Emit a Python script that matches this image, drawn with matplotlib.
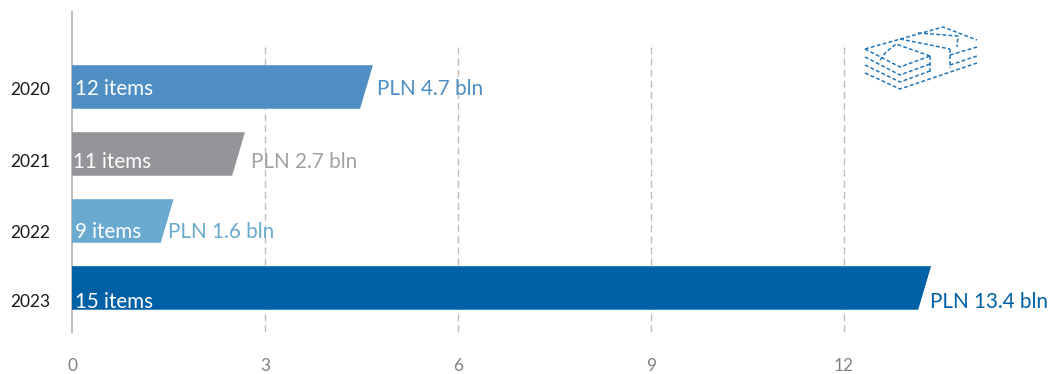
#!/usr/bin/env python
import matplotlib
matplotlib.use("Agg")
import matplotlib.pyplot as plt

plt.rcParams['font.family'] = ['Lato', 'DejaVu Sans']

years = ['2020', '2021', '2022', '2023']
values = [4.68, 2.69, 1.58, 13.36]
items = ['12 items', '11 items', '9 items', '15 items']
value_labels = ['PLN 4.7 bln', 'PLN 2.7 bln', 'PLN 1.6 bln', 'PLN 13.4 bln']
colors = ['#4F8FC3', '#939598', '#6AA9D0', '#0060A6']
label_colors = ['#4F8FC3', '#A0A2A5', '#6AA9D0', '#0060A6']
xticks = [0, 3, 6, 9, 12]

W, H = 1056, 374
fig = plt.figure(figsize=(W / 100, H / 100), dpi=100)
# axes box in pixels: left 72, right edge of figure, top 12, bottom 332
ax = fig.add_axes([72 / W, 1 - 332 / H, (W - 72) / W, 320 / H])
ax.set_xlim(0, (W - 72) / 64.3)
ax.set_ylim(3.657, -1.119)
ax.axis('off')

# dashed grid, starts lower than the axis line
for t in xticks[1:]:
    ax.plot([t, t], [-0.6, 3.657], color='#BDBEC0', lw=1, ls=(0, (5, 3)), zorder=1)
ax.plot([0, 0], [-1.119, 3.657], color='#B5B6B8', lw=1.3, zorder=1, clip_on=False)

slant = 0.2
half = 0.325
for i, v in enumerate(values):
    ax.fill([0, v, v - slant, 0], [i - half, i - half, i + half, i + half],
            color=colors[i], lw=0, zorder=2)

# label offsets from bar centre, in y units
item_dy = [0.03, 0.12, 0.17, 0.21]
item_dx = [0.05, 0.01, 0.04, 0.05]
value_x = [4.74, 2.78, 1.49, 13.35]
year_dy = [0.05, 0.12, 0.18, 0.21]
for i in range(4):
    ax.text(item_dx[i], i + item_dy[i], items[i], color='white', fontsize=14.8,
            va='center', ha='left', zorder=3)
    ax.text(value_x[i], i + item_dy[i], value_labels[i], color=label_colors[i],
            fontsize=14.9, va='center', ha='left', zorder=3)
    ax.text(-0.655, i + year_dy[i], years[i], color='#1A1A1A', fontsize=12.5,
            va='center', ha='center')

for t in xticks:
    ax.text(t + 0.0, 4.165, str(t), color='#808285', fontsize=12.5,
            va='center', ha='center', clip_on=False)

# money stack icon, drawn in pixels
icon_lines = [
    [(865, 49), (900, 67), (930, 56)],
    [(865, 57), (900, 75), (930, 64)],
    [(865, 65), (900, 82), (930, 71)],
    [(865, 73), (900, 89), (977, 63)],
    [(865, 49), (943, 27), (977, 40)],
    [(950, 55), (977, 47)],
    [(950, 65), (977, 56)],
    [(900, 39), (950, 49)],
    [(918, 33), (958, 36), (957, 47)],
    [(880, 60), (886, 52), (896, 44), (930, 56)],
    [(930, 56), (930, 72)],
    [(950, 49), (950, 68)],
]
for seg in icon_lines:
    xs = [p[0] / W for p in seg]
    ys = [1 - p[1] / H for p in seg]
    fig.add_artist(plt.Line2D(xs, ys, color='#2276B8', lw=1.1, ls=(0, (2.5, 1.5))))

fig.savefig('out.png', dpi=100)
